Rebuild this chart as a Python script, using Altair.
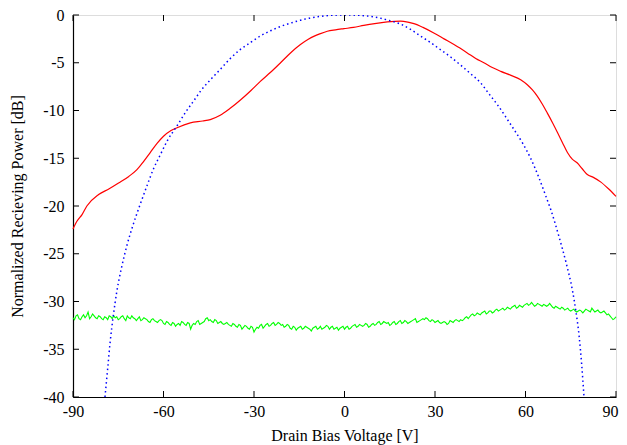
import altair as alt
import pandas as pd

# ---- data ----
red_x = [-90, -88.7, -87, -85.4, -81.5, -78, -74.9, -71.5, -68.8, -66.5, -64.4, -62, -60, -57.5,
         -55.5, -51.1, -47, -44.5, -41.2, -38, -34.5, -31, -27.9, -24.5, -21.2, -18, -14.6, -12,
         -10.2, -8, -5.7, -3, -0.2, 3, 6.4, 10, 14.2, 18.6, 21, 23, 26, 29.6, 33, 36.3, 40.7,
         43.5, 46.2, 49, 51.8, 55, 58.4, 60.6, 62.3, 63.9, 65.5, 67.2, 69, 70.6, 72.3, 73.9,
         75.5, 77.2, 78.8, 80.5, 82.5, 85, 87.5, 90]
red_y = [-22.4, -21.6, -20.9, -20.0, -18.8, -18.2, -17.6, -16.9, -16.2, -15.3, -14.4, -13.4, -12.7,
         -12.1, -11.8, -11.3, -11.1, -10.95, -10.5, -9.8, -8.9, -7.9, -6.95, -6.0, -5.0, -4.0, -3.1,
         -2.55, -2.24, -1.95, -1.7, -1.55, -1.43, -1.3, -1.09, -0.9, -0.73, -0.65, -0.75, -0.91,
         -1.3, -1.88, -2.5, -3.1, -3.97, -4.55, -5.0, -5.5, -5.9, -6.3, -6.77, -7.3, -7.85, -8.5,
         -9.3, -10.25, -11.3, -12.3, -13.4, -14.4, -15.1, -15.5, -16.1, -16.7, -17.0, -17.5, -18.2,
         -19.0]

blue_x = [-79.4, -78.5, -77.7, -76.6, -75.5, -73.8, -72.1, -70, -67.7, -65.5, -63.3, -61, -58.8,
          -55.5, -52.5, -50, -47.8, -44.5, -41.2, -38, -34.5, -31, -27.9, -24.5, -21.2, -17.9,
          -14.6, -11.3, -8, -4, 0.3, 4.5, 8, 11.5, 14.5, 18.6, 21.9, 25.2, 28.6, 31.9, 35.2, 38.5,
          41.8, 45.1, 48, 50.7, 53.5, 56.2, 59, 61.7, 64.4, 66.9, 68.4, 71, 73.5, 75.6, 76.7,
          77.8, 78.6, 79.4]
blue_y = [-40, -37, -34.3, -31.4, -29.0, -26.3, -24.1, -21.9, -19.8, -17.9, -16.1, -14.6, -13.2,
          -11.6, -10.1, -9.0, -8.0, -6.8, -5.7, -4.6, -3.6, -2.85, -2.2, -1.65, -1.2, -0.85, -0.55,
          -0.3, -0.15, -0.03, 0, -0.03, -0.12, -0.3, -0.55, -0.95, -1.5, -2.2, -2.9, -3.65, -4.4,
          -5.25, -6.15, -7.1, -8.3, -9.4, -10.7, -12.0, -13.4, -15.0, -17.0, -19.1, -20.4, -23.1,
          -26.0, -28.9, -31.0, -33.7, -36.5, -40]

# green trace: readings at whole volts (-90..90) ...
green_x = list(range(-90, 91))
green_y = [-31.7, -31.5, -31.8, -31.6, -31.7, -31.1, -31.6, -31.5, -31.8, -31.6, -31.9, -31.7,
           -31.5, -31.8, -31.7, -31.9, -31.6, -31.8, -31.5, -31.8, -31.7, -32.0, -31.6, -31.9,
           -31.8, -32.1, -31.9, -32.0, -32.2, -31.9, -32.3, -32.1, -32.4, -32.2, -32.6, -32.3,
           -32.1, -32.4, -32.2, -32.9, -32.3, -32.1, -32.4, -32.2, -31.8, -32.0, -32.1, -31.9,
           -32.3, -32.1, -32.4, -32.2, -32.5, -32.3, -32.6, -32.4, -32.9, -32.5, -32.8, -32.6,
           -33.2, -32.7, -32.5, -32.8, -32.4, -32.6, -32.3, -32.5, -32.2, -32.5, -32.7, -32.4,
           -32.8, -32.6, -33.0, -32.7, -32.9, -32.6, -32.8, -33.1, -32.7, -32.9, -32.6, -32.8,
           -32.5, -32.9, -32.6, -32.8, -33.0, -32.7, -32.9, -32.6, -32.8, -32.5, -32.7, -32.4,
           -32.6, -32.3, -32.7, -32.4, -32.5, -32.2, -32.4, -32.1, -32.3, -32.5, -32.2, -32.4,
           -32.1, -32.3, -32.0, -32.3, -32.1, -31.9, -32.2, -32.0, -31.8, -31.7, -32.0, -31.9,
           -32.2, -32.0, -32.3, -32.1, -32.4, -32.0, -32.2, -31.9, -32.1, -32.0, -31.7, -31.8,
           -31.4, -31.5, -31.2, -31.4, -31.1, -31.3, -31.0, -31.2, -30.9, -31.0, -30.8, -30.9,
           -30.6, -30.8, -30.5, -30.7, -30.4, -30.6, -30.3, -30.4, -30.1, -30.5, -30.2, -30.4,
           -30.3, -30.5, -30.2, -30.6, -30.5, -30.7, -30.6, -30.9, -30.7, -31.0, -30.8, -31.1,
           -30.9, -31.2, -30.8, -31.0, -30.7, -31.1, -30.9, -31.2, -31.0, -31.4, -31.5, -31.9,
           -31.6]
# ... and at the half volts (-89.5..89.5)
green_mid_x = [v + 0.5 for v in range(-90, 90)]
green_mid_y = [-31.9, -31.4, -31.9, -31.4, -31.5, -31.8, -31.3, -31.7, -31.5, -31.8, -31.6, -31.9,
               -31.6, -31.5, -31.6, -31.8, -31.5, -32.0, -31.7, -31.5, -31.8, -31.8, -32.0, -31.7,
               -31.9, -32.2, -31.8, -32.1, -32.0, -32.0, -32.4, -32.2, -32.5, -32.3, -32.4, -32.5,
               -32.2, -32.5, -32.3, -32.5, -32.4, -32.0, -32.3, -32.1, -31.7, -31.9, -32.2, -32.0,
               -32.2, -32.3, -32.3, -32.4, -32.6, -32.4, -32.7, -32.5, -32.7, -32.6, -32.9, -32.7,
               -32.9, -32.8, -32.4, -32.6, -32.3, -32.5, -32.2, -32.4, -32.3, -32.4, -32.6, -32.5,
               -32.9, -32.7, -32.8, -32.6, -32.8, -32.7, -32.9, -32.8, -32.6, -32.8, -32.9, -32.7,
               -32.6, -32.7, -32.9, -32.7, -32.8, -32.6, -32.7, -32.9, -32.6, -32.4, -32.6, -32.5,
               -32.5, -32.4, -32.6, -32.3, -32.4, -32.1, -32.3, -32.2, -32.2, -32.4, -32.1, -32.3,
               -32.0, -32.2, -32.1, -32.2, -32.0, -31.8, -32.1, -31.9, -31.9, -31.8, -32.1, -32.0,
               -32.1, -32.2, -32.2, -32.2, -32.3, -32.1, -32.0, -32.0, -31.9, -31.9, -31.6, -31.6,
               -31.3, -31.4, -31.3, -31.2, -31.0, -31.2, -31.0, -31.1, -30.8, -30.9, -30.7, -30.8,
               -30.7, -30.6, -30.4, -30.6, -30.5, -30.4, -30.2, -30.3, -30.3, -30.4, -30.3, -30.5,
               -30.4, -30.4, -30.4, -30.7, -30.6, -30.8, -30.7, -30.8, -30.9, -30.9, -31.0, -31.0,
               -31.0, -31.0, -30.9, -31.1, -30.9, -31.0, -31.1, -31.1, -31.2, -31.3, -31.7, -31.8]

x_ticks = [-90, -60, -30, 0, 30, 60, 90]
y_ticks = [0, -5, -10, -15, -20, -25, -30, -35, -40]

W, H = 543, 382
TICK = 6
FONT = "Liberation Serif"

red_df = pd.DataFrame({"x": red_x, "y": red_y})
blue_df = pd.DataFrame({"x": blue_x, "y": blue_y})
green_df = pd.concat([pd.DataFrame({"x": green_x, "y": green_y}),
                      pd.DataFrame({"x": green_mid_x, "y": green_mid_y})]).sort_values("x")
xt_df = pd.DataFrame({"x": x_ticks})
yt_df = pd.DataFrame({"y": y_ticks})

xs = alt.Scale(domain=[-90, 90], nice=False, zero=False)
ys = alt.Scale(domain=[-40, 0], nice=False, zero=False)

x_axis = alt.Axis(values=x_ticks, labelExpr="'' + datum.value", tickSize=0, grid=False,
                  domain=True, domainColor="black", domainWidth=1.2, labelFlush=False,
                  labelAlign={"condition": {"test": "datum.value == 90", "value": "right"},
                              "value": "center"},
                  labelOffset={"condition": {"test": "datum.value == 90", "value": 2},
                               "value": 0},
                  labelPadding=6, labelFontSize=16, labelFont=FONT,
                  labelColor="black", title="Drain Bias Voltage [V]", titleFont=FONT,
                  titleFontSize=16, titleFontWeight="normal", titleColor="black",
                  titlePadding=8)
y_axis = alt.Axis(values=y_ticks, labelExpr="'' + datum.value", tickSize=0, grid=False,
                  domain=True, domainColor="black", domainWidth=1.2, labelFlush=False,
                  labelPadding=9, labelFontSize=16, labelFont=FONT,
                  labelColor="black", title="Normalized Recieving Power [dB]", titleFont=FONT,
                  titleFontSize=16, titleFontWeight="normal", titleColor="black",
                  titlePadding=17)


def X():
    return alt.X("x:Q", scale=xs, axis=x_axis)


def Y():
    return alt.Y("y:Q", scale=ys, axis=y_axis)


red = alt.Chart(red_df).mark_line(color="#ff0000", strokeWidth=1.2, interpolate="monotone").encode(
    x=X(), y=Y())
green = alt.Chart(green_df).mark_line(color="#00ff00", strokeWidth=1.1).encode(
    x=X(), y=Y(), order="x:Q")
blue = alt.Chart(blue_df).mark_line(color="#0000ff", strokeWidth=1.5, strokeDash=[1.5, 3],
                                    interpolate="monotone", clip=True).encode(x=X(), y=Y())

tb = alt.Chart(xt_df).mark_rule(color="black", strokeWidth=1).encode(
    x=X(), y=alt.value(H), y2=alt.value(H - TICK))
tt = alt.Chart(xt_df).mark_rule(color="black", strokeWidth=1).encode(
    x=X(), y=alt.value(0), y2=alt.value(TICK))
tl = alt.Chart(yt_df).mark_rule(color="black", strokeWidth=1).encode(
    y=Y(), x=alt.value(0), x2=alt.value(TICK))
tr = alt.Chart(yt_df).mark_rule(color="black", strokeWidth=1).encode(
    y=Y(), x=alt.value(W), x2=alt.value(W - TICK))

chart = alt.layer(red, green, blue, tb, tt, tl, tr).properties(
    width=W, height=H,
    autosize=alt.AutoSizeParams(type="none"),
    padding={"left": 65, "top": 7, "right": 3, "bottom": 48},
).configure_view(stroke="black", strokeWidth=1.2).configure(background="white")

chart.save("out.html", embed_options={"renderer": "svg", "actions": False})
